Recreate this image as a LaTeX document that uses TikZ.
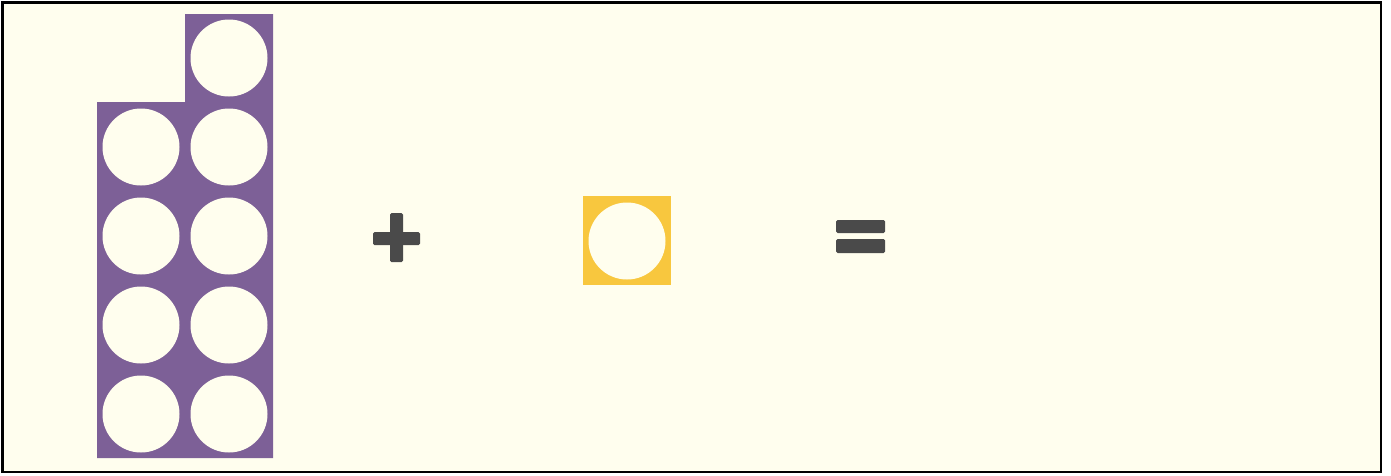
\documentclass[tikz,border=0pt]{standalone}
\usetikzlibrary{positioning}
\definecolor{cream}{HTML}{FFFEEE}
\definecolor{plum}{HTML}{7D6097}
\definecolor{gold}{HTML}{F8C73E}
\definecolor{ink}{HTML}{4A4A4A}
\begin{document}
\begin{tikzpicture}[x=1pt,y=-1pt,
 hole/.style={circle,fill=cream,minimum size=77pt,inner sep=0pt},
 bar/.style={fill=ink,rounded corners=1.5pt}
]
\useasboundingbox (0,0) rectangle (1391,475);
\draw[line width=2.5pt,fill=cream] (2.5,2.5) rectangle (1381,472);
% nine rod
\fill[plum] (185,14) -- (273,14) -- (273,458) -- (97,458) -- (97,102) -- (185,102) -- cycle;
\node[hole] (n9) at (229,58) {};
\foreach \r/\y in {1/147,2/236,3/325,4/414} {
  \node[hole] (l\r) at (141,\y) {};
  \node[hole] (r\r) at (229,\y) {};
}
% plus
\fill[bar] (373,232) rectangle (420,245);
\fill[bar] (390,213) rectangle (403,262);
% one rod
\fill[gold] (583,196) rectangle (671,285);
\node[hole] (one) at (627,241) {};
% equals
\fill[bar] (836,220) rectangle (885,233);
\fill[bar] (836,239) rectangle (885,253);
\end{tikzpicture}
\end{document}
